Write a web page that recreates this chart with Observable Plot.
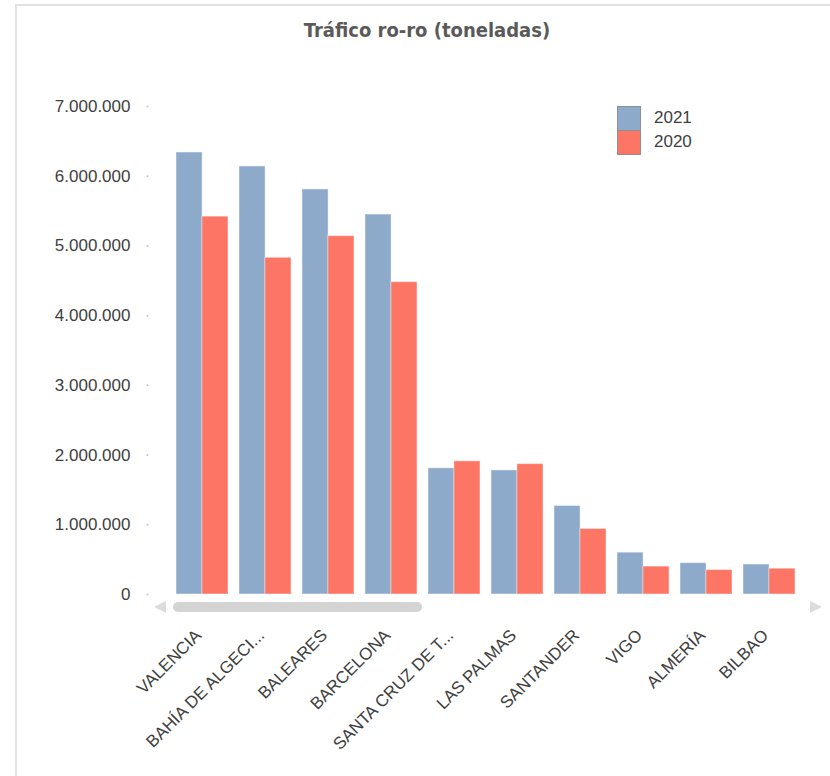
<!DOCTYPE html>
<html>
<head>
<meta charset="utf-8">
<script src="https://cdn.jsdelivr.net/npm/d3@7"></script>
<script src="https://cdn.jsdelivr.net/npm/@observablehq/plot@0.6"></script>
<style>
  html, body { margin: 0; padding: 0; background: #fff; }
  #wrap { position: relative; width: 830px; height: 776px; overflow: hidden; background: #fff; }
  #frame { position: absolute; left: 15px; top: 4px; right: -10px; bottom: -10px; border-left: 2px solid #e2e2e2; border-top: 2px solid #e2e2e2; pointer-events: none; }
  #title { height: 60px; line-height: 60px; text-align: center; font-family: "DejaVu Sans Condensed", "DejaVu Sans", sans-serif; font-size: 20px; font-weight: bold; color: #5a5a5a; padding-left: 24px; box-sizing: border-box; }
  #legend { position: absolute; left: 617px; top: 106px; font-family: "Liberation Sans", Arial, sans-serif; font-size: 17px; color: #404040; }
  .lg { display: flex; align-items: center; height: 24px; }
  .sw { width: 22px; height: 23px; border: 1px solid #8f8f8f; margin-right: 13px; box-sizing: content-box; }
  #pill { position: absolute; left: 173px; top: 602px; width: 249px; height: 10px; border-radius: 5px; background: #d4d4d4; }
  .arr { position: absolute; width: 0; height: 0; border-top: 6px solid transparent; border-bottom: 6px solid transparent; }
  #al { left: 154px; top: 601px; border-right: 12px solid #dcdcdc; }
  #ar { left: 810px; top: 601px; border-left: 12px solid #dcdcdc; }
  svg { display: block; }
</style>
</head>
<body>
<div id="wrap">
  <div id="frame"></div>
  <div id="title">Tráfico ro-ro (toneladas)</div>
  <div id="chart"></div>
  <div id="legend"></div>
  <div id="pill"></div>
  <div class="arr" id="al"></div>
  <div class="arr" id="ar"></div>
</div>
<script>
// Data
const ports = ["VALENCIA", "BAHÍA DE ALGECIRAS", "BALEARES", "BARCELONA", "SANTA CRUZ DE TENERIFE", "LAS PALMAS", "SANTANDER", "VIGO", "ALMERÍA", "BILBAO"];
const portLabels = ["VALENCIA", "BAHÍA DE ALGECI...", "BALEARES", "BARCELONA", "SANTA CRUZ DE T...", "LAS PALMAS", "SANTANDER", "VIGO", "ALMERÍA", "BILBAO"];
const values2021 = [6340000, 6140000, 5810000, 5450000, 1810000, 1780000, 1270000, 600000, 450000, 430000];
const values2020 = [5420000, 4830000, 5140000, 4480000, 1910000, 1870000, 940000, 400000, 350000, 370000];
const years = ["2021", "2020"];
const yTicks = [0, 1000000, 2000000, 3000000, 4000000, 5000000, 6000000, 7000000];

const colors = {"2021": "#8eaacb", "2020": "#fd7564"};

const rows = ports.map((p, i) => ({port: p, v2021: values2021[i], v2020: values2020[i]}));

const locale = d3.formatLocale({decimal: ",", thousands: ".", grouping: [3], currency: ["", " €"]});
const fmt = locale.format(",d");

const half = 25.9;

const chart = Plot.plot({
  width: 830,
  height: 716,
  marginTop: 46,
  marginBottom: 182,
  marginLeft: 169,
  marginRight: 29,
  style: {fontFamily: "'Liberation Sans', Arial, sans-serif", fontSize: "17px", color: "#404040", background: "transparent"},
  x: {domain: ports, paddingInner: 0.18, paddingOuter: 0.09},
  y: {domain: [0, 7000000]},
  marks: [
    Plot.barY(rows, {x: "port", y: "v2021", fill: colors["2021"], insetRight: half, stroke: "#ffffff", strokeOpacity: 0.45, strokeWidth: 1}),
    Plot.barY(rows, {x: "port", y: "v2020", fill: colors["2020"], insetLeft: half, stroke: "#ffffff", strokeOpacity: 0.45, strokeWidth: 1}),
    Plot.axisY({ticks: yTicks, tickSize: 0, tickPadding: 39, tickFormat: fmt, fill: "#404040", label: null}),
    Plot.dot(yTicks, {y: d => d, frameAnchor: "left", dx: -22, r: 1, fill: "#c4c4c4"}),
    Plot.axisX({tickSize: 0, tickPadding: 38, dx: -4, tickRotate: -45, tickFormat: d => portLabels[ports.indexOf(d)], fill: "#404040", label: null})
  ]
});
document.getElementById("chart").appendChild(chart);

// Legend
const lg = document.getElementById("legend");
years.forEach(y => {
  const row = document.createElement("div");
  row.className = "lg";
  const sw = document.createElement("div");
  sw.className = "sw";
  sw.style.background = colors[y];
  const t = document.createElement("span");
  t.textContent = y;
  row.appendChild(sw);
  row.appendChild(t);
  lg.appendChild(row);
});
</script>
</body>
</html>
